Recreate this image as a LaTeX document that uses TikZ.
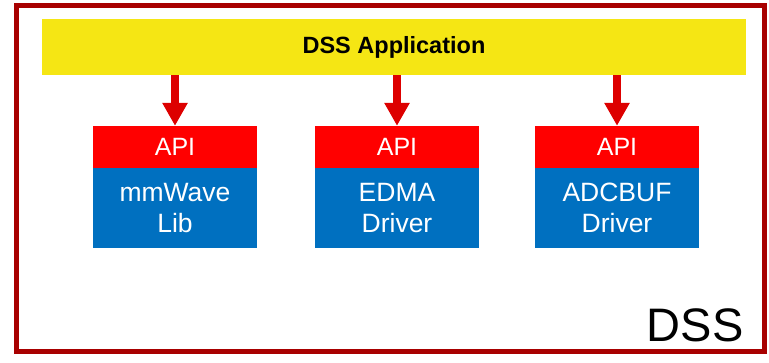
\documentclass[tikz,border=0pt]{standalone}
\usepackage{fontspec}
\setmainfont{Liberation Sans}
\usetikzlibrary{arrows.meta}
\definecolor{frameRed}{RGB}{168,0,0}
\definecolor{appYellow}{RGB}{245,230,20}
\definecolor{apiRed}{RGB}{255,0,0}
\definecolor{drvBlue}{RGB}{0,112,192}
\definecolor{arrRed}{RGB}{221,0,0}
\tikzset{
	apibox/.style={fill=apiRed, text=white, minimum width=164pt, minimum height=42pt, inner sep=0pt, font=\fontsize{25}{29}\selectfont},
	drvbox/.style={fill=drvBlue, text=white, minimum width=164pt, minimum height=80pt, inner sep=0pt, align=center, font=\fontsize{26.5}{31}\selectfont},
	callarrow/.style={-{Triangle[width=24pt,length=23pt]}, arrRed, line width=8pt}
}
\begin{document}
\begin{tikzpicture}[x=1pt, y=-1pt]
		\useasboundingbox (0, 0) rectangle (769, 362);

		\draw[frameRed, line width=5pt]	(16.5, 5) rectangle (764.5, 351);
		\node[anchor=base east, font=\fontsize{47}{56}\selectfont] (dss) at (747, 341) {DSS};

		\node[fill=appYellow, minimum width=704pt, minimum height=56pt, inner sep=0pt, font=\fontsize{23.5}{28}\selectfont\bfseries] (app) at (394, 47) {DSS Application};

		\node[apibox] (api1) at (175, 147) {API};
		\node[apibox] (api2) at (397, 147) {API};
		\node[apibox] (api3) at (617, 147) {API};

		\node[drvbox] (lib) at (175, 208) {mmWave\\Lib};
		\node[drvbox] (edma) at (397, 208) {EDMA\\Driver};
		\node[drvbox] (adcbuf) at (617, 208) {ADCBUF\\Driver};

		\draw[callarrow]	(app.south -| api1) to (api1.north);
		\draw[callarrow]	(app.south -| api2) to (api2.north);
		\draw[callarrow]	(app.south -| api3) to (api3.north);
	\end{tikzpicture}
\end{document}
